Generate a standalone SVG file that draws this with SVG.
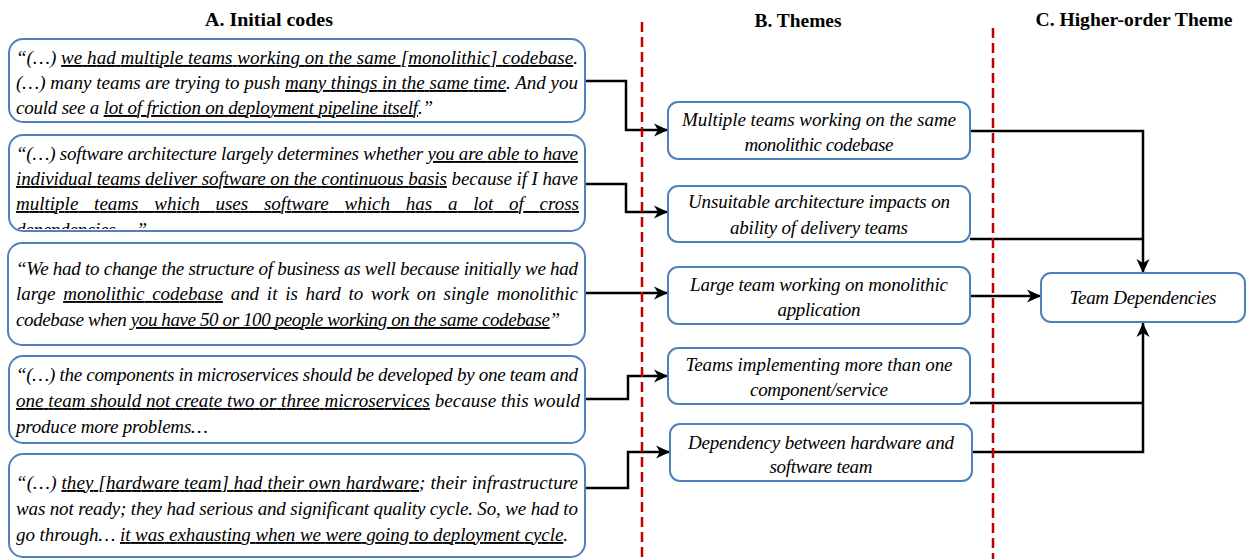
<svg xmlns="http://www.w3.org/2000/svg" width="1247" height="559" viewBox="0 0 1247 559">
<style>
.box{fill:#fff;stroke:#4F81BD;stroke-width:2}
.q{font-family:"Liberation Serif","Times New Roman",serif;font-style:italic;font-size:19px;fill:#000}
.t{font-family:"Liberation Serif","Times New Roman",serif;font-style:italic;font-size:19px;fill:#000;text-anchor:middle}
.h{font-family:"Liberation Serif","Times New Roman",serif;font-weight:bold;font-size:19px;fill:#000;text-anchor:middle}
.u{text-decoration:underline;text-decoration-skip-ink:none}
.conn{fill:none;stroke:#000;stroke-width:2.5;stroke-linejoin:miter;stroke-linecap:butt}
.sep{stroke:#C00000;stroke-width:2.5;stroke-dasharray:10 5}
</style>
<defs>
<marker id="arr" markerUnits="userSpaceOnUse" viewBox="0 0 14 14" markerWidth="14" markerHeight="14" refX="14" refY="7" orient="auto">
<path d="M0,0.5 L14,7 L0,13.5 L4,7 Z" fill="#000"/>
</marker>
<clipPath id="clip2"><rect x="9" y="135" width="576" height="94"/></clipPath>
</defs>
<rect width="1247" height="559" fill="#fff"/>

<g id="headings">
<text class="h" x="269" y="26" textLength="128" lengthAdjust="spacingAndGlyphs">A. Initial codes</text>
<text class="h" x="798" y="27" textLength="87" lengthAdjust="spacingAndGlyphs">B. Themes</text>
<text class="h" x="1134" y="26" textLength="197" lengthAdjust="spacingAndGlyphs">C. Higher-order Theme</text>
</g>

<g id="connectors">
<path class="conn" d="M585,81 H626 V130 H668" marker-end="url(#arr)"/>
<path class="conn" d="M585,184 H626 V212 H668" marker-end="url(#arr)"/>
<path class="conn" d="M585,293 H668" marker-end="url(#arr)"/>
<path class="conn" d="M585,399 H628 V376 H668" marker-end="url(#arr)"/>
<path class="conn" d="M585,488 H628 V452 H670" marker-end="url(#arr)"/>
<path class="conn" d="M970,131 H1143 V273" marker-end="url(#arr)"/>
<path class="conn" d="M970,239 H1143"/>
<path class="conn" d="M970,296 H1041" marker-end="url(#arr)"/>
<path class="conn" d="M970,403 H1143"/>
<path class="conn" d="M972,452 H1143 V323" marker-end="url(#arr)"/>
</g>

<g id="code1">
<rect class="box" x="9" y="39" width="576" height="83" rx="14"/>
<text class="q" x="16" y="64" textLength="562" lengthAdjust="spacing">“(…) <tspan class="u">we had multiple teams working on the same [monolithic] codebase</tspan>.</text>
<text class="q" x="16" y="89" textLength="562" lengthAdjust="spacing">(…) many teams are trying to push <tspan class="u">many things in the same time</tspan>. And you</text>
<text class="q" x="16" y="114" textLength="417" lengthAdjust="spacing">could see a <tspan class="u">lot of friction on deployment pipeline itself</tspan>.”</text>
</g>

<g id="code2">
<rect class="box" x="9" y="135" width="576" height="96" rx="14"/>
<g clip-path="url(#clip2)">
<text class="q" x="16" y="160" textLength="562" lengthAdjust="spacing">“(…) software architecture largely determines whether <tspan class="u">you are able to have</tspan></text>
<text class="q" x="16" y="185" textLength="562" lengthAdjust="spacing"><tspan class="u">individual teams deliver software on the continuous basis</tspan> because if I have</text>
<text class="q" x="16" y="210" textLength="563" lengthAdjust="spacing" style="word-spacing:11px"><tspan class="u">multiple teams which uses software which has a lot of cross</tspan></text>
<text class="q" x="16" y="236" textLength="131" lengthAdjust="spacing"><tspan class="u">dependencies</tspan>….”</text>
</g>
</g>

<g id="code3">
<rect class="box" x="8" y="243" width="577" height="102" rx="14"/>
<text class="q" x="16" y="275" textLength="562" lengthAdjust="spacing">“We had to change the structure of business as well because initially we had</text>
<text class="q" x="16" y="300" textLength="562" lengthAdjust="spacing" style="word-spacing:3px">large <tspan class="u">monolithic codebase</tspan> and it is hard to work on single monolithic</text>
<text class="q" x="16" y="326" textLength="544" lengthAdjust="spacing">codebase when <tspan class="u">you have 50 or 100 people working on the same codebase</tspan>”</text>
</g>

<g id="code4">
<rect class="box" x="9" y="356" width="576" height="87" rx="14"/>
<text class="q" x="16" y="381" textLength="562" lengthAdjust="spacing">“(…) the components in microservices should be developed by one team and</text>
<text class="q" x="16" y="407" textLength="564" lengthAdjust="spacing"><tspan class="u">one team should not create two or three microservices</tspan> because this would</text>
<text class="q" x="16" y="433" textLength="192" lengthAdjust="spacing">produce more problems…</text>
</g>

<g id="code5">
<rect class="box" x="9" y="454" width="576" height="103" rx="14"/>
<text class="q" x="16" y="489" textLength="562" lengthAdjust="spacing">“(…) <tspan class="u">they [hardware team] had their own hardware</tspan>; their infrastructure</text>
<text class="q" x="16" y="515" textLength="562" lengthAdjust="spacing">was not ready; they had serious and significant quality cycle. So, we had to</text>
<text class="q" x="16" y="541" textLength="552" lengthAdjust="spacing">go through… <tspan class="u">it was exhausting when we were going to deployment cycle</tspan>.</text>
</g>

<g id="theme1">
<rect class="box" x="668" y="102" width="302" height="57" rx="10"/>
<text class="t" x="819" y="126" textLength="274" lengthAdjust="spacing">Multiple teams working on the same</text>
<text class="t" x="819" y="151" textLength="149" lengthAdjust="spacing">monolithic codebase</text>
</g>

<g id="theme2">
<rect class="box" x="668" y="186" width="302" height="56" rx="10"/>
<text class="t" x="819" y="208" textLength="262" lengthAdjust="spacing">Unsuitable architecture impacts on</text>
<text class="t" x="819" y="234" textLength="178" lengthAdjust="spacing">ability of delivery teams</text>
</g>

<g id="theme3">
<rect class="box" x="668" y="267" width="302" height="57" rx="10"/>
<text class="t" x="819" y="291" textLength="258" lengthAdjust="spacing">Large team working on monolithic</text>
<text class="t" x="819" y="316" textLength="83" lengthAdjust="spacing">application</text>
</g>

<g id="theme4">
<rect class="box" x="668" y="348" width="302" height="56" rx="10"/>
<text class="t" x="819" y="371" textLength="267" lengthAdjust="spacing">Teams implementing more than one</text>
<text class="t" x="819" y="396" textLength="138" lengthAdjust="spacing">component/service</text>
</g>

<g id="theme5">
<rect class="box" x="670" y="424" width="302" height="57" rx="10"/>
<text class="t" x="821" y="449" textLength="266" lengthAdjust="spacing">Dependency between hardware and</text>
<text class="t" x="821" y="473" textLength="103" lengthAdjust="spacing">software team</text>
</g>

<g id="team-dependencies">
<rect class="box" x="1041" y="273" width="204" height="49" rx="10"/>
<text class="t" x="1143" y="304" textLength="147" lengthAdjust="spacing">Team Dependencies</text>
</g>

<g id="separators">
<line class="sep" x1="642" y1="22" x2="642" y2="559"/>
<line class="sep" x1="993" y1="28" x2="993" y2="559"/>
</g>
</svg>
